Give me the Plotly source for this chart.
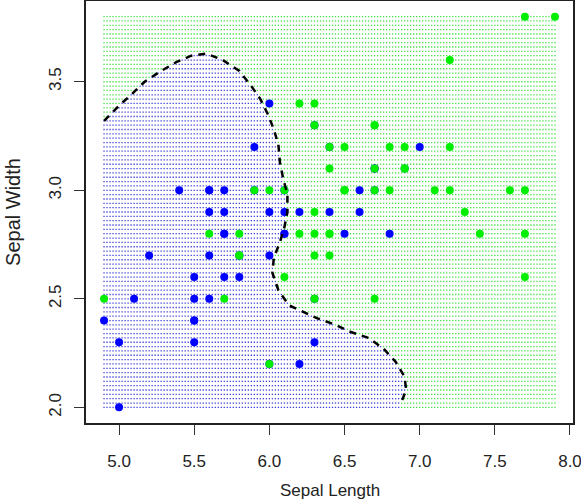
import numpy as np
import plotly.graph_objects as go

# Iris versicolor (blue) and virginica (green): Sepal Length / Sepal Width
versicolor_len = [7.0, 6.4, 6.9, 5.5, 6.5, 5.7, 6.3, 4.9, 6.6, 5.2, 5.0, 5.9, 6.0, 6.1, 5.6, 6.7, 5.6, 5.8, 6.2, 5.6,
                  5.9, 6.1, 6.3, 6.1, 6.4, 6.6, 6.8, 6.7, 6.0, 5.7, 5.5, 5.5, 5.8, 6.0, 5.4, 6.0, 6.7, 6.3, 5.6, 5.5,
                  5.5, 6.1, 5.8, 5.0, 5.6, 5.7, 5.7, 6.2, 5.1, 5.7]
versicolor_wid = [3.2, 3.2, 3.1, 2.3, 2.8, 2.8, 3.3, 2.4, 2.9, 2.7, 2.0, 3.0, 2.2, 2.9, 2.9, 3.1, 3.0, 2.7, 2.2, 2.5,
                  3.2, 2.8, 2.5, 2.8, 2.9, 3.0, 2.8, 3.0, 2.9, 2.6, 2.4, 2.4, 2.7, 2.7, 3.0, 3.4, 3.1, 2.3, 3.0, 2.5,
                  2.6, 3.0, 2.6, 2.3, 2.7, 3.0, 2.9, 2.9, 2.5, 2.8]
virginica_len = [6.3, 5.8, 7.1, 6.3, 6.5, 7.6, 4.9, 7.3, 6.7, 7.2, 6.5, 6.4, 6.8, 5.7, 5.8, 6.4, 6.5, 7.7, 7.7, 6.0,
                 6.9, 5.6, 7.7, 6.3, 6.7, 7.2, 6.2, 6.1, 6.4, 7.2, 7.4, 7.9, 6.4, 6.3, 6.1, 7.7, 6.3, 6.4, 6.0, 6.9,
                 6.7, 6.9, 5.8, 6.8, 6.7, 6.7, 6.3, 6.5, 6.2, 5.9]
virginica_wid = [3.3, 2.7, 3.0, 2.9, 3.0, 3.0, 2.5, 2.9, 2.5, 3.6, 3.2, 2.7, 3.0, 2.5, 2.8, 3.2, 3.0, 3.8, 2.6, 2.2,
                 3.2, 2.8, 2.8, 2.7, 3.3, 3.2, 2.8, 3.0, 2.8, 3.0, 2.8, 3.8, 2.8, 2.8, 2.6, 3.0, 3.4, 3.1, 3.0, 3.1,
                 3.1, 3.1, 2.7, 3.2, 3.3, 3.0, 2.5, 3.0, 3.4, 3.0]

# Decision boundary
boundary_x = [4.90, 5.00, 5.08, 5.17, 5.28, 5.38, 5.48, 5.58, 5.69, 5.80, 5.88, 5.94, 5.99, 6.03, 6.06, 6.07,
              6.09, 6.12, 6.12, 6.10, 6.07, 6.03, 6.02, 6.06, 6.13, 6.23, 6.32, 6.44, 6.53, 6.66, 6.76, 6.84,
              6.90, 6.91, 6.87]
boundary_y = [3.32, 3.39, 3.44, 3.50, 3.55, 3.59, 3.62, 3.63, 3.60, 3.55, 3.48, 3.42, 3.35, 3.28, 3.21, 3.13,
              3.06, 2.98, 2.90, 2.83, 2.76, 2.69, 2.62, 2.54, 2.47, 2.44, 2.41, 2.38, 2.35, 2.32, 2.27, 2.21,
              2.14, 2.08, 2.01]

x_ticks = [5.0, 5.5, 6.0, 6.5, 7.0, 7.5, 8.0]
y_ticks = [2.0, 2.5, 3.0, 3.5]

# background prediction grid
gx = np.round(np.arange(4.9, 7.9001, 0.02), 4)
gy = np.round(np.arange(2.0, 3.8001, 0.02), 4)
GX, GY = np.meshgrid(gx, gy)
GX = GX.ravel()
GY = GY.ravel()

poly_x = boundary_x + [6.86, 4.88, 4.88]
poly_y = boundary_y + [1.99, 1.99, 3.32]


def inside(px, py, vx, vy):
    vx = np.asarray(vx)
    vy = np.asarray(vy)
    res = np.zeros(px.shape, dtype=bool)
    n = len(vx)
    j = n - 1
    for i in range(n):
        xi, yi, xj, yj = vx[i], vy[i], vx[j], vy[j]
        cond = ((yi > py) != (yj > py))
        xint = (xj - xi) * (py - yi) / (yj - yi + 1e-12) + xi
        res ^= cond & (px < xint)
        j = i
    return res


blue_mask = inside(GX, GY, poly_x, poly_y)

fig = go.Figure()
fig.add_trace(go.Scatter(x=GX[blue_mask], y=GY[blue_mask], mode="markers",
                         marker=dict(symbol="square", size=1.3, color="#4040d8", line=dict(width=0)),
                         hoverinfo="skip", showlegend=False))
fig.add_trace(go.Scatter(x=GX[~blue_mask], y=GY[~blue_mask], mode="markers",
                         marker=dict(symbol="square", size=1.3, color="#40e040", line=dict(width=0)),
                         hoverinfo="skip", showlegend=False))
fig.add_trace(go.Scatter(x=versicolor_len, y=versicolor_wid, mode="markers",
                         marker=dict(size=8, color="#0000ff", line=dict(width=0)), showlegend=False))
fig.add_trace(go.Scatter(x=virginica_len, y=virginica_wid, mode="markers",
                         marker=dict(size=8, color="#00ee00", line=dict(width=0)), showlegend=False))
fig.add_trace(go.Scatter(x=boundary_x, y=boundary_y, mode="lines",
                         line=dict(color="black", width=2.5, dash="7px,6px"), showlegend=False))

font = dict(family="Liberation Sans, Arial, sans-serif", size=17, color="#222222")

fig.update_layout(
    width=581, height=500,
    margin=dict(l=86, r=8, t=1, b=77),
    paper_bgcolor="white", plot_bgcolor="white",
    font=font,
    xaxis=dict(range=[4.78, 8.02], tickvals=x_ticks, ticktext=[f"{v:.1f}" for v in x_ticks],
               ticks="outside", ticklen=10, tickcolor="#333", tickwidth=1,
               showline=True, linecolor="#222", linewidth=1.5, mirror=True,
               showgrid=False, zeroline=False, ticklabeloverflow="allow", automargin=False,
               ticklabelstandoff=12),
    yaxis=dict(range=[1.928, 3.872], tickvals=y_ticks, ticktext=[f"{v:.1f}" for v in y_ticks],
               ticks="outside", ticklen=10, tickcolor="#333", tickwidth=1, tickangle=-90,
               showline=True, linecolor="#222", linewidth=1.5, mirror=True,
               showgrid=False, zeroline=False, automargin=False,
               title=dict(text="Sepal Width", standoff=20), ticklabelstandoff=6),
    annotations=[dict(text="Sepal Length", xref="paper", yref="paper", x=0.5, y=-0.133,
                      xanchor="center", yanchor="top", showarrow=False, font=font)],
)

fig.write_html("out.html")
